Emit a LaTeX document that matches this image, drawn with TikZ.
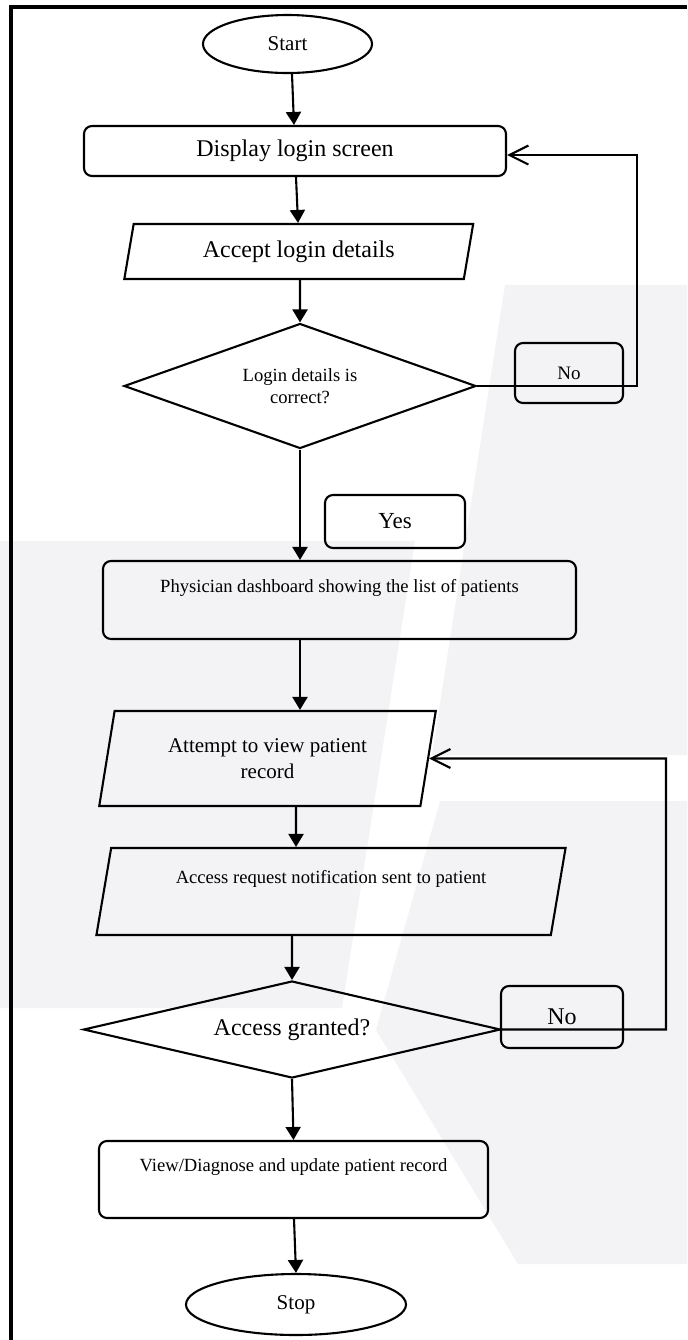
\documentclass[tikz,border=0pt]{standalone}
\usepackage{fontspec}
\setmainfont{Liberation Serif}
\usetikzlibrary{shapes.geometric,arrows.meta,calc}
\definecolor{wm}{RGB}{243,243,246}
\begin{document}
\begin{tikzpicture}[x=0.5pt,y=-0.5pt,
  base/.style={draw,line width=1.05pt,inner sep=0pt,align=center},
  term/.style={base,ellipse},
  proc/.style={base,rectangle,rounded corners=4pt},
  io/.style={base,trapezium,trapezium left angle=76,trapezium right angle=104,trapezium stretches=true},
  dec/.style={base,diamond},
  lbl/.style={base,rectangle,rounded corners=4pt},
  arr/.style={line width=1.05pt,-{Triangle[length=6.5pt,width=7.5pt]}},
  back/.style={line width=1.05pt,-{Straight Barb[length=9.5pt,width=9.5pt]}},
  fbig/.style={font=\fontsize{12}{14}\selectfont},
  fmid/.style={font=\fontsize{10.5}{13}\selectfont},
  fsmall/.style={font=\fontsize{9.3}{11}\selectfont}
]
\useasboundingbox (0,0) rectangle (687,1340);
\fill[white] (0,0) rectangle (687,1340);
% faint watermark in the background
\fill[wm] (505,285) -- (687,285) -- (687,755) -- (432,755) -- cycle;
\fill[wm] (0,541) -- (415,541) -- (342,1008) -- (0,1008) -- cycle;
\fill[wm] (440,801) -- (687,801) -- (687,1264) -- (518,1264) -- (376,1030) -- cycle;
\draw[line width=2pt] (11,1340) -- (11,7) -- (687,7);

\node[term,fmid,minimum width=84.5pt,minimum height=29pt] (start) at (287.5,44) {Start};
\node[proc,fbig,minimum width=211pt,minimum height=25pt] (disp) at (295,151) {Display login screen};
\node[io,fbig,minimum width=174.5pt,minimum height=27.5pt] (accept) at (298.75,251.5) {Accept login details};
\node[dec,fsmall,aspect=2.8,minimum width=176pt,minimum height=62.5pt] (login) at (300,386) {Login details is\\correct?};
\node[lbl,font=\fontsize{9.5}{11}\selectfont,minimum width=54pt,minimum height=30pt] (no1) at (569,373) {No};
\node[lbl,font=\fontsize{11.5}{13}\selectfont,minimum width=70pt,minimum height=26.5pt] (yes) at (395,521.5) {Yes};
\node[proc,fsmall,minimum width=236.5pt,minimum height=39pt] (phys) at (339.5,600) {Physician dashboard showing the list of patients\\\strut};
\node[io,fmid,minimum width=168.5pt,minimum height=47.5pt] (attempt) at (267.5,758.5) {Attempt to view patient\\record};
\node[io,fsmall,minimum width=235pt,minimum height=43.5pt] (req) at (331,891.5) {Access request notification sent to patient\\\strut};
\node[dec,fbig,aspect=4.3,minimum width=208.5pt,minimum height=48.5pt] (granted) at (292,1029.5) {Access granted?};
\node[lbl,fbig,minimum width=61pt,minimum height=31pt] (no2) at (562,1017) {No};
\node[proc,fsmall,minimum width=194.5pt,minimum height=38.5pt] (view) at (293.5,1179.5) {View/Diagnose and update patient record\\\strut};
\node[term,fmid,minimum width=110pt,minimum height=30.5pt] (stop) at (296,1304.5) {Stop};

\draw[arr] ($(start.south)+(4.5,0)$) -- ($(disp.north)+(-1,0)$);
\draw[arr] ($(disp.south)+(1,0)$) -- ($(accept.north)+(-0.75,0)$);
\draw[arr] ($(accept.south)+(1.25,0)$) -- (login.north);
\draw[arr] (login.south) -- (phys.north -| login.south);
\draw[arr] (phys.south -| login.south) -- (attempt.north -| login.south);
\draw[arr] ($(attempt.south)+(28.5,0)$) -- ($(req.north)+(-35,0)$);
\draw[arr] ($(req.south)+(-39,0)$) -- (granted.north);
\draw[arr] (granted.south) -- (view.north);
\draw[arr] ($(view.south)+(0.5,0)$) -- (stop.north);

\coordinate (c1) at (637,155);
\draw[back] (login.east) -| (c1) -- ($(disp.east)+(0,4)$);
\coordinate (c2) at (666,758.5);
\draw[back] (granted.east) -| (c2) -- (attempt.east);
\end{tikzpicture}
\end{document}
